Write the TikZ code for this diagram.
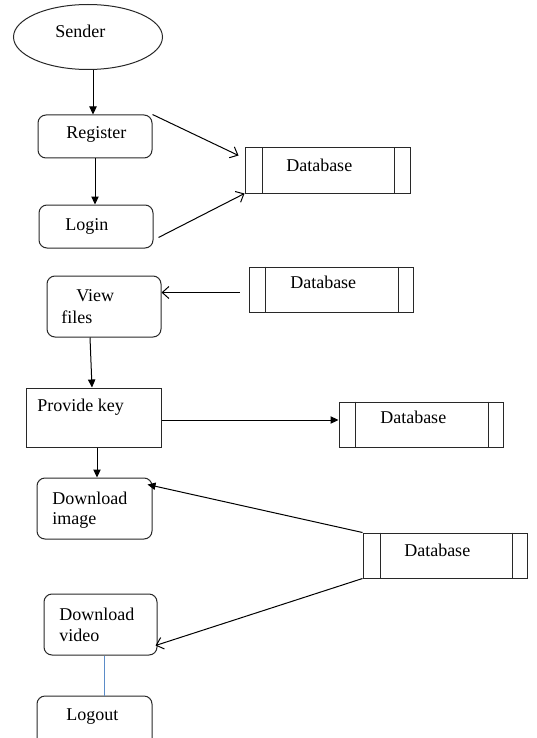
\documentclass[tikz,border=0pt]{standalone}
\usepackage{fontspec}
\setmainfont{Liberation Serif}
\newfontfamily\tnrfont{Liberation Serif}
\usetikzlibrary{arrows.meta,calc,shapes.geometric}
\definecolor{lineblue}{RGB}{91,140,200}
\definecolor{edge}{RGB}{40,40,40}
\begin{document}
\begin{tikzpicture}[x=0.75pt,y=-0.75pt,
  every node/.style={font=\tnrfont\fontsize{13.5}{16}\selectfont},
  rbox/.style={draw=edge,line width=0.75pt,rounded corners=6pt,inner sep=0pt},
  sbox/.style={draw=edge,line width=0.75pt,inner sep=0pt},
  dbbox/.style={draw=edge,line width=0.75pt,inner sep=0pt,minimum width=123pt,minimum height=33.75pt},
  lbl/.style={inner sep=0pt,anchor=base west},
  fa/.style={draw=black,line width=0.75pt,-{Triangle[length=6pt,width=5.5pt]}},
  oa/.style={draw=black,line width=0.75pt,-{Straight Barb[length=5pt,width=9pt]}}]
\useasboundingbox (0,0) rectangle (536,738);
\clip (0,0) rectangle (536,738);
\fill[white] (0,0) rectangle (536,738);

% shapes
\node[ellipse,draw=edge,line width=0.75pt,minimum width=111.75pt,minimum height=48.75pt,inner sep=0pt] (sender) at (88,37) {};
\node[rbox,minimum width=85.5pt,minimum height=32.25pt] (reg) at (95,136.5) {};
\node[rbox,minimum width=85.5pt,minimum height=32.25pt] (login) at (96,226.5) {};
\node[dbbox,minimum width=123.75pt] (db1) at (327.5,170.5) {};
\node[dbbox] (db2) at (331,289.5) {};
\node[rbox,minimum width=85.5pt,minimum height=45.75pt] (view) at (104,306.5) {};
\node[sbox,minimum width=101.25pt,minimum height=44.25pt] (key) at (93.5,417.5) {};
\node[dbbox] (db3) at (421,424.5) {};
\node[rbox,minimum width=86.25pt,minimum height=45.75pt] (img) at (94.5,508.5) {};
\node[dbbox] (db4) at (445,555.5) {};
\node[rbox,minimum width=84.75pt,minimum height=45.75pt] (video) at (100.5,624.5) {};
\node[rbox,minimum width=86.25pt,minimum height=40.5pt] (logout) at (94.5,723) {};

% database inner bars
\foreach \d/\l/\r in {db1/18/16, db2/17/15, db3/17/15, db4/18/15}{
  \draw[edge,line width=0.75pt] ($(\d.north west)+(\l,0)$) -- ($(\d.south west)+(\l,0)$);
  \draw[edge,line width=0.75pt] ($(\d.north east)+(-\r,0)$) -- ($(\d.south east)+(-\r,0)$);
}

% labels
\node[lbl] (tsender) at (55,38) {Sender};
\node[lbl] (treg) at (66,139) {Register};
\node[lbl] (tlogin) at (65,230) {Login};
\node[lbl] (tdb1) at (286,171.5) {Database};
\node[lbl] (tdb2) at (290,288) {Database};
\node[lbl] (tview) at (76,301.5) {View};
\node[lbl] (tfiles) at (61,323) {files};
\node[lbl] (tkey) at (37,411) {Provide key};
\node[lbl] (tdb3) at (380,423) {Database};
\node[lbl] (tdb4) at (404,556.5) {Database};
\node[lbl] (timg1) at (52,504) {Download};
\node[lbl] (timg2) at (52,524) {image};
\node[lbl] (tvid1) at (59,620) {Download};
\node[lbl] (tvid2) at (59,641) {video};
\node[lbl] (tlogout) at (66,720) {Logout};

% connectors
\draw[fa] ($(sender.south)+(5,0)$) -- ($(reg.north)+(-2,0)$);
\draw[fa] (reg.south) -- (reg.south |- login.north);
\draw[oa] (reg.north east) -- ($(db1.north west)+(-6,8)$);
\draw[oa] ($(login.south east)+(5,-11)$) -- (db1.south west);
\coordinate (d2s) at ($(db2.west)+(-9,3)$);
\draw[oa] (d2s) -- (d2s -| view.east);
\draw[fa] ($(view.south)+(-14,0)$) -- ($(key.north)+(-1.5,0)$);
\coordinate (ks) at ($(key.east)+(0,2.5)$);
\draw[fa] (ks) -- (ks -| db3.west);
\coordinate (kb) at ($(key.south)+(3.5,0)$);
\draw[fa] (kb) -- (kb |- img.north);
\draw[fa] (db4.north west) -- ($(img.north east)+(-5,7)$);
\draw[oa] (db4.south west) -- ($(video.south east)+(-2,-10)$);
\draw[lineblue,line width=0.6pt] ($(video.south)+(3.5,0)$) -- ($(logout.north)+(9.5,0)$);
\end{tikzpicture}
\end{document}
